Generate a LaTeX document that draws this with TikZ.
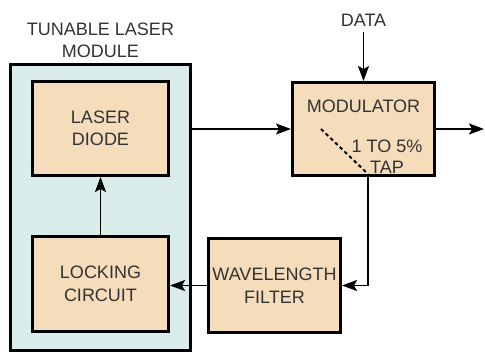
\documentclass[tikz,border=0pt]{standalone}
\usepackage{fontspec}
\setmainfont{Liberation Sans}
\usetikzlibrary{arrows.meta}
\definecolor{boxfill}{HTML}{F5DCBB}
\definecolor{modfill}{HTML}{DAEDEA}
\definecolor{txt}{HTML}{333333}
\tikzset{
  every node/.style={text=txt, font=\fontsize{18}{22.5}\selectfont},
  blockbox/.style={draw=black, line width=3pt, fill=boxfill, align=center, inner sep=0pt},
  modbox/.style={draw=black, line width=3pt, fill=modfill, inner sep=0pt},
  arr/.style={line width=1.7pt, -{Stealth[length=15pt,width=11pt,inset=3pt]}},
  plain/.style={line width=1.7pt},
  tapline/.style={line width=2pt, dash pattern=on 3.5pt off 3pt},
  lbl/.style={inner sep=0pt, align=center}
}
\begin{document}
\begin{tikzpicture}[x=1pt,y=-1pt]
\useasboundingbox (0,0) rectangle (485,353);
\node[modbox, minimum width=180pt, minimum height=286pt] (module) at (100.5,207.5) {};
\node[lbl] (title) at (100.5,40.5) {TUNABLE LASER\\MODULE};
\node[blockbox, minimum width=136pt, minimum height=94pt] (laser) at (100.5,128.5) {LASER\\DIODE};
\node[blockbox, minimum width=136pt, minimum height=95pt] (locking) at (100.5,284) {LOCKING\\CIRCUIT};
\node[blockbox, minimum width=132pt, minimum height=94pt] (filter) at (274.5,285.5) {WAVELENGTH\\FILTER};
\node[blockbox, minimum width=142pt, minimum height=93pt] (modulator) at (363.5,129) {};
\node[lbl, anchor=base] (modtext) at (363.5,113) {MODULATOR};
\node[lbl, anchor=base] (pct) at (387,153) {1 TO 5\%};
\node[lbl, anchor=base] (taptext) at (387,173) {TAP};
\node[lbl] (data) at (363.5,20) {DATA};
\coordinate (tapstart) at (321,129);
\coordinate (tapend) at (368,174);
\coordinate (out) at (484,129);
\coordinate (datastart) at (363.5,32);
% connectors
\draw[arr] (datastart) -- (modulator.north);
\draw[arr] (module.east |- modulator.west) -- (modulator.west);
\draw[arr] (modulator.east) -- (out);
\draw[tapline] (tapstart) -- (tapend);
\draw[arr] (tapend) |- (filter.east);
\draw[arr] (filter.west) -- (filter.west -| locking.east);
\draw[arr] (locking.north) -- (laser.south);
\end{tikzpicture}
\end{document}
